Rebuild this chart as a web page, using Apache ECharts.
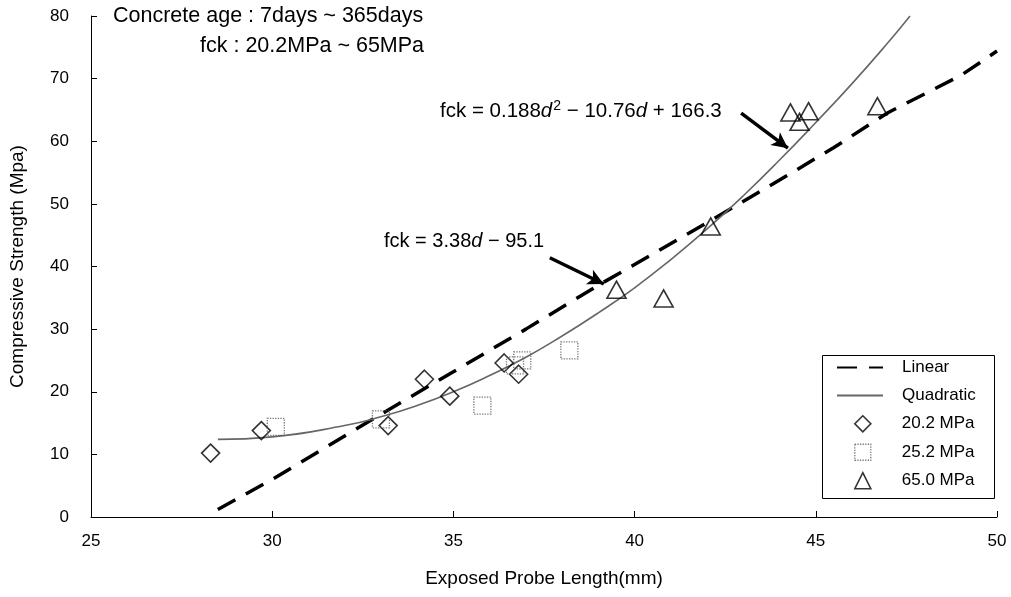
<!DOCTYPE html>
<html>
<head>
<meta charset="utf-8">
<script src="https://cdn.jsdelivr.net/npm/echarts@6/dist/echarts.min.js"></script>
<style>html,body{margin:0;padding:0;background:#fff;}#c{width:1011px;height:597px;}</style>
</head>
<body>
<div id="c"></div>
<script>
// ---- data ----
var xTicks = [25, 30, 35, 40, 45, 50];
var yTicks = [0, 10, 20, 30, 40, 50, 60, 70, 80];
var linearPts = [[28.5,1.2],[30,6],[33,16.4],[35,23.2],[37,30],[39,37],[42,47],[44,53.8],[45.5,59],[47,64.6],[49,70.5],[50,74.4]];
var quadPts = [[28.5,12.4],[30,12.8],[32,14.6],[33,16],[34,17.8],[35,20],[36,22.6],[37,25.5],[38,28.9],[39,32.6],[40,36.6],[41,41.1],[42,46],[43,51.3],[44,57],[45,63],[46,69.2],[47,75.8],[47.6,80]];
var mpa202 = [[28.3,10.2],[29.7,13.8],[33.2,14.6],[34.2,22.0],[34.9,19.3],[36.4,24.6],[36.8,22.8]];
var mpa252 = [[30.1,14.4],[33.0,15.6],[35.8,17.8],[36.7,24.2],[36.9,25.0],[38.2,26.6]];
var mpa650 = [[39.5,36.3],[40.8,34.9],[42.1,46.4],[44.3,64.6],[44.55,63.1],[44.8,64.8],[46.7,65.6]];
var arrows = [[[42.94,64.5],[44.23,58.9]],[[37.66,41.4],[39.15,37.2]]];
var seriesNames = ['Linear','Quadratic','20.2 MPa','25.2 MPa','65.0 MPa'];

var FONT = 'Liberation Sans, Arial, sans-serif';
var chart = echarts.init(document.getElementById('c'));
var hollow = 'rgba(0,0,0,0)';
var noSym = {color: hollow, borderColor: hollow, borderWidth: 0, opacity: 0};
var legendText = {fontSize: 17, color: '#000', fontFamily: FONT};
var diamondStyle = {color: hollow, borderColor: '#000', borderWidth: 1.6};
var squareStyle = {color: hollow, borderColor: '#555', borderWidth: 1.3, borderType: 'dotted'};
var triStyle = {color: hollow, borderColor: '#000', borderWidth: 1.6};
chart.setOption({
  animation: false,
  backgroundColor: '#fff',
  textStyle: {fontFamily: FONT, color: '#000'},
  grid: {left: 87, right: 14, top: 16, bottom: 80, containLabel: false},
  xAxis: {
    type: 'value', min: xTicks[0], max: xTicks[xTicks.length-1], interval: 5,
    name: 'Exposed Probe Length(mm)', nameLocation: 'middle', nameGap: 52,
    nameTextStyle: {fontSize: 19, color: '#000', fontFamily: FONT},
    axisLine: {show: true, lineStyle: {color: '#000', width: 1}},
    axisTick: {show: true, inside: true, length: 6, lineStyle: {color: '#000'}},
    axisLabel: {fontSize: 17, color: '#000', margin: 16, fontFamily: FONT},
    splitLine: {show: false}
  },
  yAxis: {
    type: 'value', min: yTicks[0], max: yTicks[yTicks.length-1], interval: 10,
    name: 'Compressive Strength (Mpa)', nameLocation: 'middle', nameGap: 64,
    nameTextStyle: {fontSize: 19, color: '#000', fontFamily: FONT},
    axisLine: {show: true, lineStyle: {color: '#000', width: 1}},
    axisTick: {show: true, inside: true, length: 6, lineStyle: {color: '#000'}},
    axisLabel: {fontSize: 17, color: '#000', margin: 22, fontFamily: FONT},
    splitLine: {show: false}
  },
  legend: [
    {
      orient: 'vertical', left: 836, top: 359, padding: 0, itemGap: 11,
      itemWidth: 46, itemHeight: 15, z: 10,
      data: [{name: seriesNames[0], itemStyle: noSym}, {name: seriesNames[1], itemStyle: noSym}],
      textStyle: Object.assign({padding: [0,0,0,14]}, legendText)
    },
    {
      orient: 'vertical', left: 854, top: 415, padding: 0, itemGap: 11,
      itemWidth: 16, itemHeight: 16, z: 10,
      data: [{name: seriesNames[2], itemStyle: diamondStyle}, {name: seriesNames[3], itemStyle: squareStyle}, {name: seriesNames[4], itemStyle: triStyle}],
      textStyle: Object.assign({padding: [0,0,0,26]}, legendText)
    }
  ],
  graphic: [
    {type: 'rect', left: 822, top: 355, z: 5, shape: {width: 172, height: 143},
     style: {fill: '#fff', stroke: '#000', lineWidth: 1}},
    {type: 'text', left: 113, top: 5, style: {text: 'Concrete age : 7days ~ 365days', font: '21.5px ' + FONT, fill: '#000'}},
    {type: 'text', left: 200, top: 35, style: {text: 'fck : 20.2MPa ~ 65MPa', font: '21.5px ' + FONT, fill: '#000'}},
    {type: 'text', left: 440, top: 99, style: {
      rich: {n: {fontSize: 20.5, fontFamily: FONT}, i: {fontSize: 20.5, fontStyle: 'italic', fontFamily: FONT}, s: {fontSize: 14, fontFamily: FONT, verticalAlign: 'top', padding: [0,0,10,1]}},
      text: '{n|fck = 0.188}{i|d}{s|2}{n| \u2212 10.76}{i|d}{n| + 166.3}', fill: '#000'}},
    {type: 'text', left: 384, top: 231, style: {
      rich: {n: {fontSize: 20, fontFamily: FONT}, i: {fontSize: 20, fontStyle: 'italic', fontFamily: FONT}},
      text: '{n|fck = 3.38}{i|d}{n| \u2212 95.1}', fill: '#000'}}
  ],
  series: [
    {name: seriesNames[0], type: 'line', data: linearPts, symbol: 'none', z: 3,
     lineStyle: {color: '#000', width: 3.5, type: [20, 12]}, itemStyle: {color: '#000'},
     markLine: {silent: true, symbol: ['none', 'arrow'], symbolSize: [12, 16],
       label: {show: false}, lineStyle: {color: '#000', width: 3.5, type: 'solid'},
       data: arrows.map(function(a){ return [{coord: a[0]}, {coord: a[1]}]; })}},
    {name: seriesNames[1], type: 'line', data: quadPts, symbol: 'none', smooth: true, z: 3,
     lineStyle: {color: '#666', width: 1.6}, itemStyle: {color: '#666'}},
    {name: seriesNames[2], type: 'scatter', data: mpa202, symbol: 'diamond', symbolSize: 18, z: 4,
     itemStyle: diamondStyle},
    {name: seriesNames[3], type: 'scatter', data: mpa252, symbol: 'rect', symbolSize: 17, z: 4,
     itemStyle: squareStyle},
    {name: seriesNames[4], type: 'scatter', data: mpa650, symbol: 'triangle', symbolSize: [19, 17], z: 4,
     itemStyle: triStyle}
  ]
});
</script>
</body>
</html>
